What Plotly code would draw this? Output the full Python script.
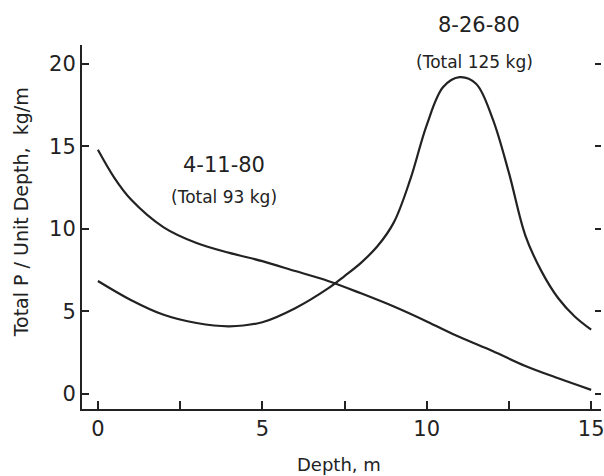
import plotly.graph_objects as go

# 4-11-80 profile
depth_a = [0, 0.5, 1, 2, 3, 4, 5, 6, 7, 8, 9, 10, 11, 12, 13, 14, 15]
p_a = [14.8, 13.1, 11.8, 10.1, 9.15, 8.55, 8.05, 7.45, 6.85, 6.1, 5.3, 4.4, 3.45, 2.6, 1.7, 0.95, 0.25]

# 8-26-80 profile
depth_b = [0, 1, 2, 3, 4, 5, 6, 7, 7.5, 8, 8.5, 9, 9.5, 10, 10.5, 11, 11.5, 12, 12.5, 13, 13.5, 14, 14.5, 15]
p_b = [6.85, 5.7, 4.8, 4.3, 4.1, 4.35, 5.2, 6.4, 7.15, 7.95, 8.95, 10.4, 13.0, 16.3, 18.6, 19.2, 18.8, 16.7, 13.4, 9.6, 7.4, 5.8, 4.7, 3.9]

x_ticks = [0, 2.5, 5, 7.5, 10, 12.5, 15]
x_ticktext = ["0", "", "5", "", "10", "", "15"]
y_ticks = [0, 5, 10, 15, 20]

W, H = 604, 476
L, R, T, B = 82, 604, 45, 409

def px(x):
    return (x - L) / (R - L)

def py(y):
    return (B - y) / (B - T)

FONT = "DejaVu Sans"
INK = "#222222"

fig = go.Figure()
fig.add_trace(go.Scatter(x=depth_a, y=p_a, mode="lines",
                         line=dict(color=INK, width=2.2, shape="spline", smoothing=1.0),
                         showlegend=False))
fig.add_trace(go.Scatter(x=depth_b, y=p_b, mode="lines",
                         line=dict(color=INK, width=2.2, shape="spline", smoothing=1.0),
                         showlegend=False))
# invisible trace to carry right-hand tick marks
fig.add_trace(go.Scatter(x=[None], y=[None], yaxis="y2", showlegend=False))

fig.update_layout(
    width=W, height=H,
    margin=dict(l=L, r=W - R, t=T, b=H - B),
    paper_bgcolor="white", plot_bgcolor="white",
    font=dict(family=FONT, color=INK),
    xaxis=dict(range=[-0.484, 15.30], tickvals=x_ticks, ticktext=x_ticktext,
               ticks="inside", ticklen=8, tickwidth=1.5, tickcolor=INK,
               ticklabeloverflow="allow",
               showline=True, linecolor=INK, linewidth=2, showgrid=False,
               zeroline=False, tickfont=dict(size=21, family=FONT, color=INK)),
    yaxis=dict(range=[-0.91, 21.15], tickvals=y_ticks,
               ticks="inside", ticklen=7, tickwidth=1.5, tickcolor=INK,
               showline=True, linecolor=INK, linewidth=2, showgrid=False,
               zeroline=False, tickfont=dict(size=21, family=FONT, color=INK)),
    yaxis2=dict(range=[-0.91, 21.15], tickvals=y_ticks, overlaying="y", side="right",
                ticks="inside", ticklen=6, tickwidth=1.5, tickcolor=INK,
                showticklabels=False, showline=False, showgrid=False, zeroline=False),
)

ann = [
    ("8-26-80", 481, 25, 21),
    ("(Total 125 kg)", 477, 62, 17),
    ("4-11-80", 225, 165, 21),
    ("(Total 93 kg)", 225, 197, 17),
    ("Depth, m", 340, 465, 18),
]
for text, x, y, size in ann:
    fig.add_annotation(text=text, xref="paper", yref="paper", x=px(x), y=py(y),
                       xanchor="center", yanchor="middle", showarrow=False,
                       font=dict(size=size, family=FONT, color=INK))
fig.add_annotation(text="Total P / Unit Depth,  kg/m", xref="paper", yref="paper",
                   x=px(21), y=py(212), xanchor="center", yanchor="middle",
                   textangle=-90, showarrow=False,
                   font=dict(size=19, family=FONT, color=INK))

fig.write_html("out.html")
